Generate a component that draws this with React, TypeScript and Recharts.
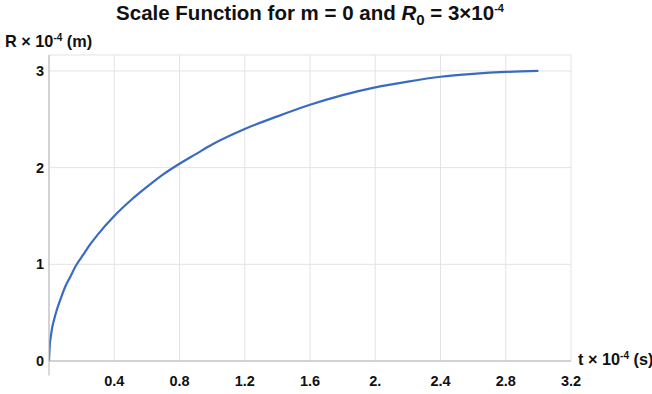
import { CartesianGrid, Line, LineChart, ReferenceLine, XAxis, YAxis } from "recharts";

// t (x 10^-4 s) and R (x 10^-4 m)
const tValues = [0, 0.005, 0.01, 0.02, 0.03, 0.05, 0.075, 0.1, 0.13, 0.17, 0.21, 0.25, 0.3, 0.4, 0.5, 0.6, 0.7, 0.8, 0.9, 1.0, 1.2, 1.4, 1.6, 1.8, 2.0, 2.2, 2.4, 2.6, 2.8, 3.0];
const rValues = [0, 0.17, 0.24, 0.35, 0.42, 0.54, 0.66, 0.77, 0.87, 1.0, 1.1, 1.2, 1.31, 1.5, 1.66, 1.8, 1.93, 2.04, 2.14, 2.24, 2.4, 2.53, 2.65, 2.75, 2.83, 2.89, 2.94, 2.97, 2.99, 3.0];

const xTicks = [0.4, 0.8, 1.2, 1.6, 2.0, 2.4, 2.8, 3.2];
const xTickLabels = ["0.4", "0.8", "1.2", "1.6", "2.", "2.4", "2.8", "3.2"];
const yTicks = [0, 1, 2, 3];

const data = tValues.map((t, i) => ({ t, r: rValues[i] }));

const font = '"Liberation Sans", Arial, Helvetica, sans-serif';
const tickStyle = { fontFamily: font, fontSize: 14.5, fontWeight: 700, fill: "#111" };

export default function App() {
  return (
    <div
      style={{
        position: "absolute",
        left: 0,
        top: 0,
        width: 652,
        height: 394,
        background: "#fff",
        fontFamily: font,
        color: "#111",
      }}
    >
      <div
        style={{
          position: "absolute",
          left: 0,
          top: 1,
          width: 620,
          textAlign: "center",
          fontSize: 20.5,
          fontWeight: 700,
          whiteSpace: "nowrap",
        }}
      >
        Scale Function for m = 0 and <i>R</i>
        <sub style={{ fontSize: 15 }}>0</sub> = 3×10
        <sup style={{ fontSize: 11 }}>-4</sup>
      </div>
      <div
        style={{
          position: "absolute",
          left: 5,
          top: 32,
          fontSize: 16.3,
          fontWeight: 700,
          whiteSpace: "nowrap",
        }}
      >
        R × 10<sup style={{ fontSize: 10 }}>-4</sup> (m)
      </div>
      <div
        style={{
          position: "absolute",
          left: 578,
          top: 350,
          fontSize: 16.3,
          fontWeight: 700,
          whiteSpace: "nowrap",
        }}
      >
        t × 10<sup style={{ fontSize: 10 }}>-4</sup> (s)
      </div>
      <LineChart
        width={652}
        height={394}
        data={data}
        margin={{ top: 55, right: 81, left: 9, bottom: 3 }}
      >
        <CartesianGrid stroke="#e3e3e3" strokeWidth={1} />
        <XAxis
          type="number"
          dataKey="t"
          domain={[0, 3.2]}
          ticks={xTicks}
          tickFormatter={(v: number) => xTickLabels[xTicks.indexOf(v)] ?? String(v)}
          axisLine={{ stroke: "#b5b5b5" }}
          tickLine={false}
          tickSize={0}
          tickMargin={15}
          height={30}
          tick={tickStyle}
          allowDataOverflow
        />
        <YAxis
          type="number"
          domain={[0, 3.165]}
          ticks={yTicks}
          axisLine={{ stroke: "#b5b5b5" }}
          tickLine={false}
          tickSize={0}
          tickMargin={5}
          width={40}
          tick={tickStyle}
          allowDataOverflow
        />
        <ReferenceLine
          segment={[
            { x: 0, y: 0 },
            { x: 0, y: -0.15 },
          ]}
          stroke="#b5b5b5"
          ifOverflow="visible"
        />
        <Line
          type="monotone"
          dataKey="r"
          stroke="#3a6bc2"
          strokeWidth={2.2}
          dot={false}
          isAnimationActive={false}
        />
      </LineChart>
    </div>
  );
}
